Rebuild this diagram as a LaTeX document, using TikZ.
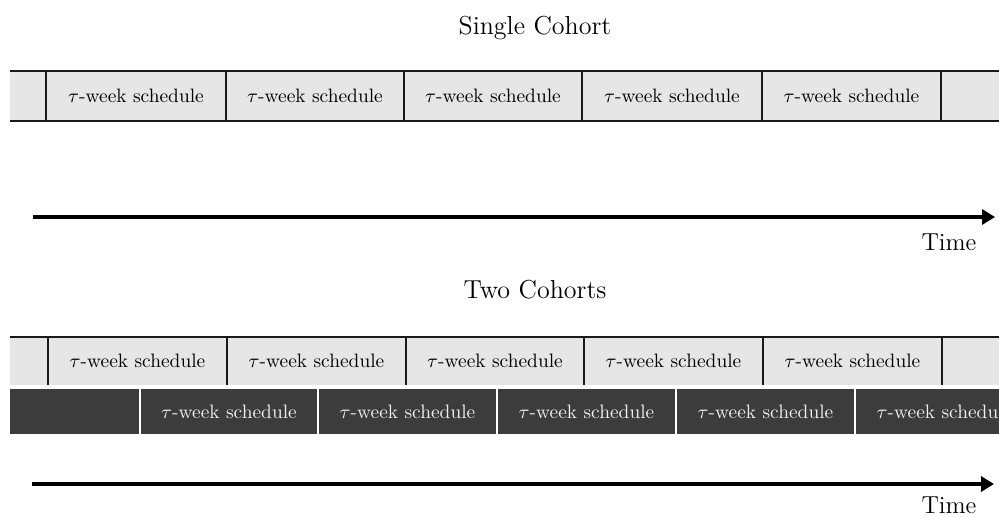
\RequirePackage{fix-cm}
\documentclass[tikz,border=0pt]{standalone}
\usepackage{fontspec}
\usetikzlibrary{arrows.meta}
\definecolor{lightcell}{HTML}{E6E6E6}
\definecolor{darkcell}{HTML}{3C3C3C}
\newcommand\segbox[7]{%
  \node[#1, minimum width={(#4-#3)*0.5pt}, minimum height={#6*0.5pt}] (#2) at ({(#3+#4)/2},#5) {#7};}
\tikzset{
  lightbox/.style={fill=lightcell, inner sep=0pt, font=\fontsize{9.7}{11}\selectfont},
  darkbox/.style={fill=darkcell, inner sep=0pt, text=black!6, font=\fontsize{9.7}{11}\selectfont},
  title/.style={font=\fontsize{13}{15}\selectfont, anchor=base},
  timelabel/.style={font=\fontsize{12.3}{14}\selectfont, anchor=base},
  timearrow/.style={line width=2pt, -{Triangle[length=6.5pt,width=7.5pt]}},
  edge/.style={line width=1pt, black!90},
  whiteedge/.style={line width=1pt, white}
}
\begin{document}
\begin{tikzpicture}[x=0.5pt,y=-0.5pt]
\clip (0,0) rectangle (999,516);
\fill[white] (0,0) rectangle (999,516);
% ---------- Single cohort ----------
\node[title] (t1) at (535,34) {Single Cohort};
\segbox{lightbox}{a0}{10}{46}{96}{50}{}
\segbox{lightbox}{a1}{46}{226}{96}{50}{$\tau$-week schedule}
\segbox{lightbox}{a2}{226}{404}{96}{50}{$\tau$-week schedule}
\segbox{lightbox}{a3}{404}{582}{96}{50}{$\tau$-week schedule}
\segbox{lightbox}{a4}{582}{762}{96}{50}{$\tau$-week schedule}
\segbox{lightbox}{a5}{762}{941}{96}{50}{$\tau$-week schedule}
\segbox{lightbox}{a6}{941}{1010}{96}{50}{}
\draw[edge] (a0.north west) -- (a6.north east);
\draw[edge] (a0.south west) -- (a6.south east);
\foreach \n in {a0,a1,a2,a3,a4,a5}
  \draw[edge] (\n.north east) -- (\n.south east);
\coordinate (s1) at (33,217);
\coordinate (e1) at (995,217);
\draw[timearrow] (s1) -- (e1);
\node[timelabel] (time1) at (949,250) {Time};
% ---------- Two cohorts ----------
\node[title] (t2) at (535,298) {Two Cohorts};
\segbox{lightbox}{b0}{10}{48}{361}{48}{}
\segbox{lightbox}{b1}{48}{227}{361}{48}{$\tau$-week schedule}
\segbox{lightbox}{b2}{227}{406}{361}{48}{$\tau$-week schedule}
\segbox{lightbox}{b3}{406}{584}{361}{48}{$\tau$-week schedule}
\segbox{lightbox}{b4}{584}{763}{361}{48}{$\tau$-week schedule}
\segbox{lightbox}{b5}{763}{942}{361}{48}{$\tau$-week schedule}
\segbox{lightbox}{b6}{942}{1010}{361}{48}{}
\draw[edge] (b0.north west) -- (b6.north east);
\foreach \n in {b0,b1,b2,b3,b4,b5}
  \draw[edge] (\n.north east) -- (\n.south east);
\segbox{darkbox}{c0}{10}{140}{411.5}{45}{}
\segbox{darkbox}{c1}{140}{318}{411.5}{45}{$\tau$-week schedule}
\segbox{darkbox}{c2}{318}{497}{411.5}{45}{$\tau$-week schedule}
\segbox{darkbox}{c3}{497}{676}{411.5}{45}{$\tau$-week schedule}
\segbox{darkbox}{c4}{676}{855}{411.5}{45}{$\tau$-week schedule}
\segbox{darkbox}{c5}{855}{1034}{411.5}{45}{$\tau$-week schedule}
\foreach \n in {c0,c1,c2,c3,c4}
  \draw[whiteedge] (\n.north east) -- (\n.south east);
\coordinate (s2) at (32,484);
\coordinate (e2) at (994,484);
\draw[timearrow] (s2) -- (e2);
\node[timelabel] (time2) at (949,513) {Time};
\end{tikzpicture}
\end{document}
